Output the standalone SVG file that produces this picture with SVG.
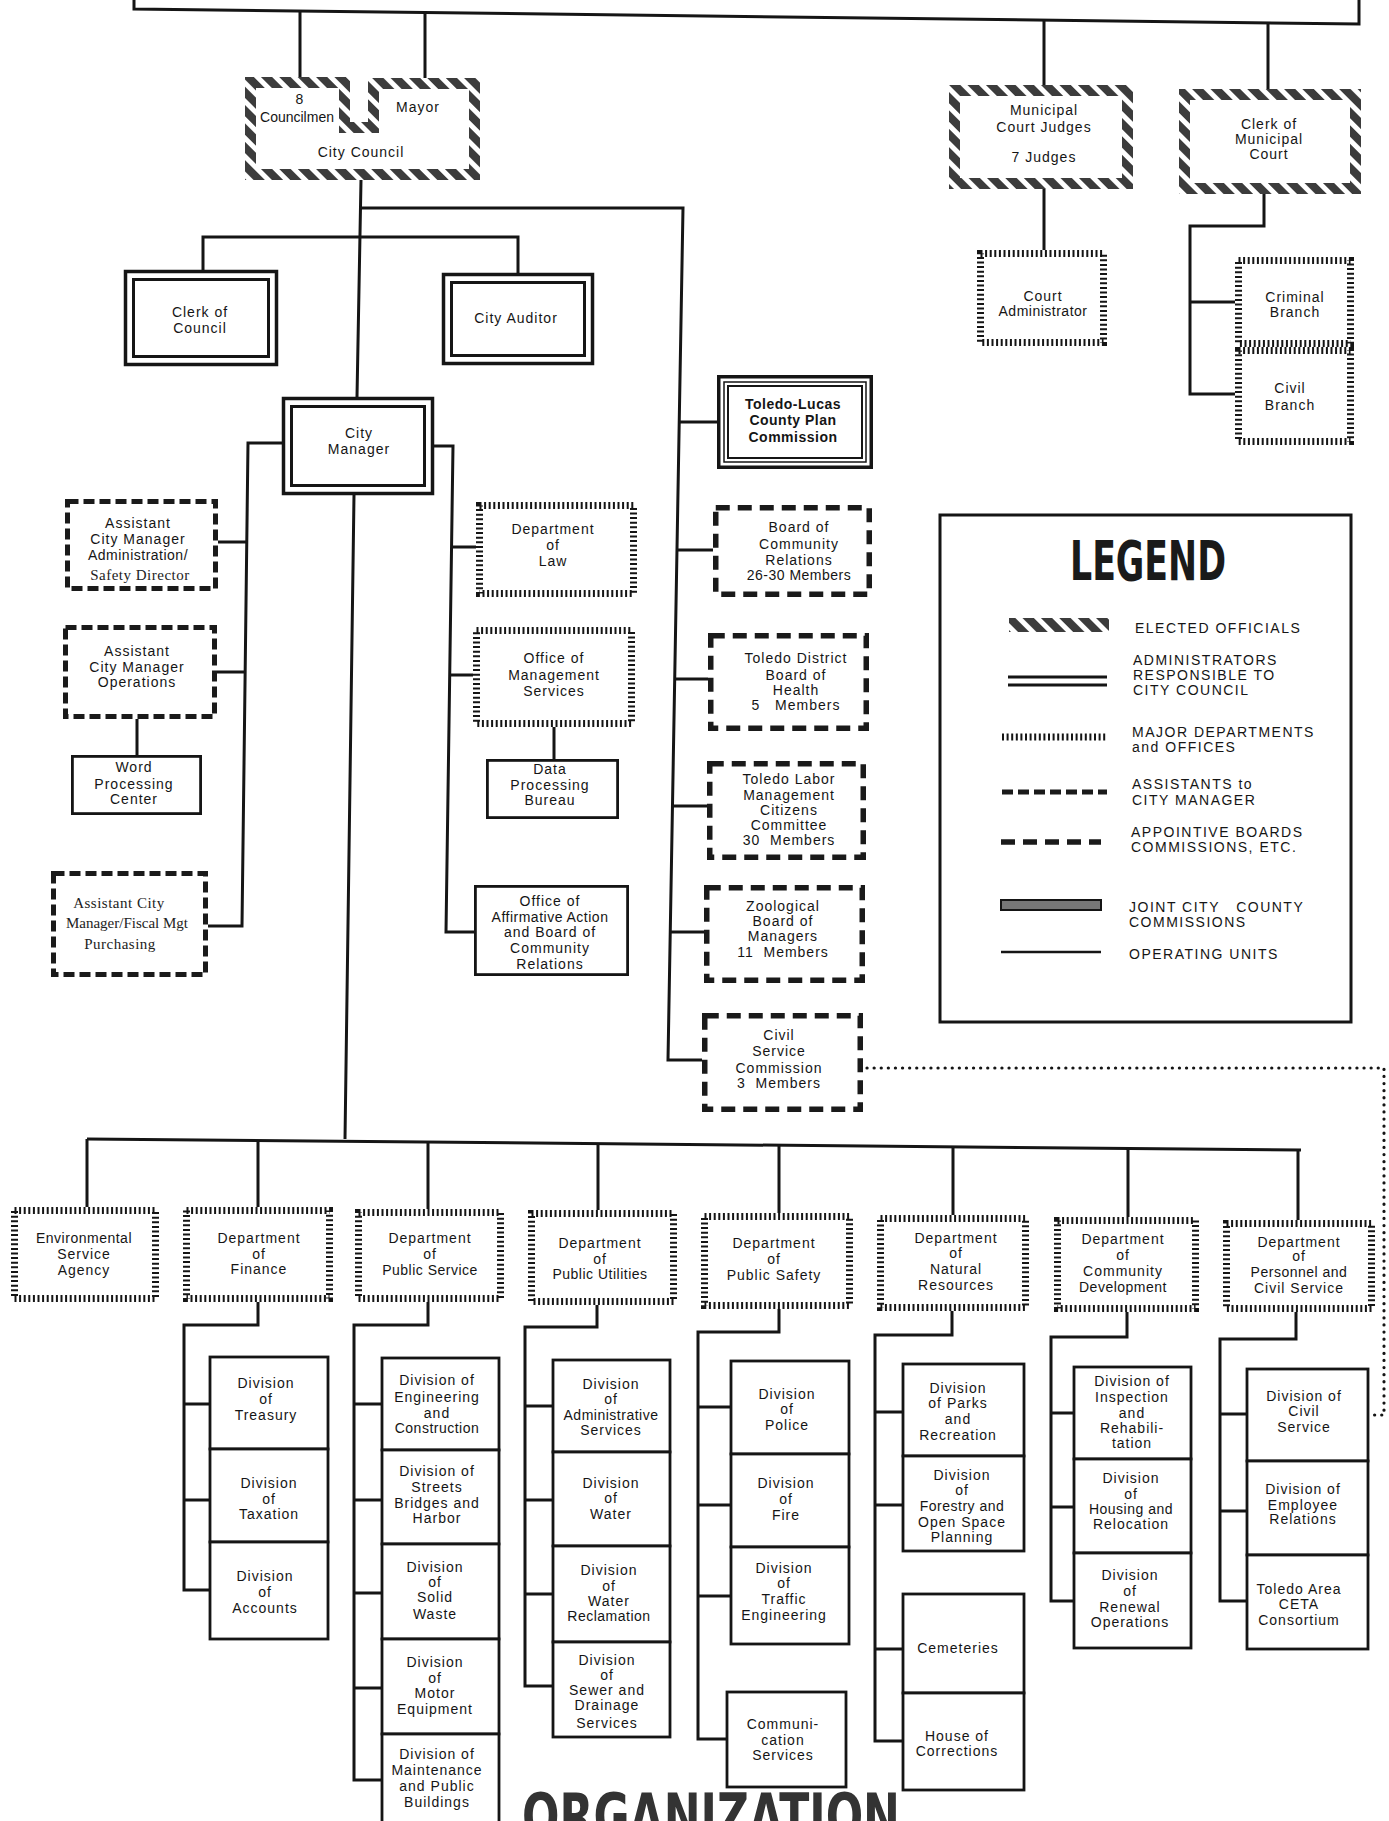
<svg xmlns="http://www.w3.org/2000/svg" width="1389" height="1821" viewBox="0 0 1389 1821">
<style>
.t{font-family:"Liberation Sans",Arial,sans-serif;font-size:14px;letter-spacing:1px;text-anchor:middle;fill:#151515}
.ts{font-family:"Liberation Serif","Times New Roman",serif;font-size:15px;letter-spacing:0.5px;text-anchor:middle;fill:#222}
.lg{font-family:"Liberation Sans",Arial,sans-serif;font-size:14px;letter-spacing:1.5px;fill:#151515}
.el{fill:#fff;stroke:url(#hatch);stroke-width:11}
.ad{fill:#fff;stroke:#151515;stroke-width:3.5}
.ad2{fill:none;stroke:#151515;stroke-width:3}
.mj{fill:#fff;stroke:#151515;stroke-width:7;stroke-dasharray:2 2.6}
.as{fill:#fff;stroke:#1a1a1a;stroke-width:5;stroke-dasharray:11 5}
.ap{fill:#fff;stroke:#1a1a1a;stroke-width:5.5;stroke-dasharray:14 8}
.op{fill:#fff;stroke:#151515;stroke-width:2.8}
.cn{fill:none;stroke:#151515;stroke-width:3}
.dot{fill:none;stroke:#151515;stroke-width:3.2;stroke-dasharray:0.1 7;stroke-linecap:round}
.nar{letter-spacing:0.5px}
</style>
<defs>
<pattern id="hatch" patternUnits="userSpaceOnUse" width="13" height="13" patternTransform="rotate(-45)">
<rect width="13" height="13" fill="#fff"/><rect width="8" height="13" fill="#3c3c3c"/>
</pattern>
</defs>
<rect width="1389" height="1821" fill="#fff"/>

<g id="connectors">
<path class="cn" d="M134,0 V9 L1359,24 V0" stroke-width="4.5"/>
<path class="cn" d="M300,10 V80 M425,11 V80 M1044,20 V88 M1268,23 V92"/>
<path class="cn" d="M361,180 L357,397 M361,208 H683 L668,1060 H702"/>
<path class="cn" d="M203,270 V237 H518 V273"/>
<path class="cn" d="M283,443 H248 L242,926 H208 M247,542 H218 M246,672 H217 M137,719 V755"/>
<path class="cn" d="M433,446 H453 L446,932 H474 M452,547 H476 M451,675 H473 M554,727 V759"/>
<path class="cn" d="M679,422 H717 M677,550 H713 M675,679 H708 M672,806 H707 M670,932 H704"/>
<path class="cn" d="M1044,189 V250 M1264,193 V226 H1190 V394 H1235 M1190,302 H1235"/>
<path class="cn" d="M354,495 L345,1139 M87,1139 L1301,1150"/>
<path class="cn" d="M87,1139 V1207 M258,1140.5 V1207 M428,1142 V1209 M598,1143.6 V1210 M779,1145 V1213 M953,1147 V1215 M1128,1148.4 V1217 M1298,1150 V1220"/>
<path class="cn" d="M258,1302 V1325 H184 V1590 H210 M184,1404 H210 M184,1500 H210"/>
<path class="cn" d="M428,1302 V1325 H354 V1780 H382 M354,1404 H382 M354,1500 H382 M354,1593 H382 M354,1688 H382"/>
<path class="cn" d="M597,1305 V1327 H525 V1686 H553 M525,1406 H553 M525,1500 H553 M525,1594 H553"/>
<path class="cn" d="M779,1309 V1332 H698 V1739 H727 M698,1407 H731 M698,1505 H731 M698,1596 H731"/>
<path class="cn" d="M952,1311 V1335 H875 V1741 H903 M875,1412 H903 M875,1505 H903 M875,1649 H903"/>
<path class="cn" d="M1127,1312 V1337 H1051 V1601 H1074 M1051,1413 H1074 M1051,1507 H1074"/>
<path class="cn" d="M1296,1312 V1339 H1220 V1601 H1247 M1220,1414 H1247 M1220,1511 H1247"/>
<path class="dot" d="M867,1068 H1384 V1415 H1372"/>
</g>

<g id="city-council">
<path class="el" d="M250.5,82.5 H344.5 V127.5 H373.5 V83.5 H474.5 V174.5 H250.5 Z"/>
<text class="t" x="300" y="104">8</text>
<text class="t" x="297" y="122" style="letter-spacing:0">Councilmen</text>
<text class="t" x="418" y="112">Mayor</text>
<text class="t" x="361" y="157">City Council</text>
</g>

<g id="municipal-court-judges">
<rect class="el" x="954.5" y="90.5" width="173" height="93"/>
<text class="t" x="1044" y="115">Municipal</text>
<text class="t" x="1044" y="132">Court Judges</text>
<text class="t" x="1044" y="162">7 Judges</text>
</g>

<g id="clerk-municipal-court">
<rect class="el" x="1184.5" y="94.5" width="171" height="94"/>
<text class="t" x="1269" y="129">Clerk of</text>
<text class="t" x="1269" y="144">Municipal</text>
<text class="t" x="1269" y="159">Court</text>
</g>

<g id="court-administrator">
<rect class="mj" x="980.5" y="253.5" width="123" height="89"/>
<text class="t" x="1043" y="301">Court</text>
<text class="t nar" x="1043" y="316">Administrator</text>
</g>

<g id="criminal-branch">
<rect class="mj" x="1238.5" y="260.5" width="112" height="83"/>
<text class="t" x="1295" y="302">Criminal</text>
<text class="t" x="1295" y="317">Branch</text>
</g>

<g id="civil-branch">
<rect class="mj" x="1238.5" y="350.5" width="112" height="91"/>
<text class="t" x="1290" y="393">Civil</text>
<text class="t" x="1290" y="410">Branch</text>
</g>

<g id="clerk-of-council">
<rect class="ad" x="125.5" y="271.5" width="151" height="93"/>
<rect class="ad2" x="133.5" y="279.5" width="135" height="77"/>
<text class="t" x="200" y="317">Clerk of</text>
<text class="t" x="200" y="333">Council</text>
</g>

<g id="city-auditor">
<rect class="ad" x="443.5" y="274.5" width="149" height="89"/>
<rect class="ad2" x="451.5" y="282.5" width="133" height="73"/>
<text class="t" x="516" y="323">City Auditor</text>
</g>

<g id="city-manager">
<rect class="ad" x="283.5" y="398.5" width="149" height="95"/>
<rect class="ad2" x="291.5" y="406.5" width="133" height="79"/>
<text class="t" x="359" y="438">City</text>
<text class="t" x="359" y="454">Manager</text>
</g>

<g id="plan-commission">
<rect x="718.75" y="376.75" width="152.5" height="90.5" fill="#fff" stroke="#151515" stroke-width="3.5"/>
<rect x="724" y="382" width="142" height="80" fill="none" stroke="#151515" stroke-width="1.5"/>
<rect x="728" y="386" width="134" height="72" fill="none" stroke="#151515" stroke-width="2"/>
<text class="t" x="793" y="409" style="font-weight:bold;letter-spacing:0.5px">Toledo-Lucas</text>
<text class="t" x="793" y="425" style="font-weight:bold;letter-spacing:0.5px">County Plan</text>
<text class="t" x="793" y="442" style="font-weight:bold;letter-spacing:0.5px">Commission</text>
</g>

<g id="asst-admin">
<rect class="as" x="67.5" y="501.5" width="148" height="87"/>
<text class="t" x="138" y="528">Assistant</text>
<text class="t" x="138" y="544">City Manager</text>
<text class="t nar" x="138" y="560">Administration/</text>
<text class="ts" x="140" y="580">Safety Director</text>
</g>

<g id="asst-operations">
<rect class="as" x="65.5" y="627.5" width="149" height="89"/>
<text class="t" x="137" y="656">Assistant</text>
<text class="t" x="137" y="672">City Manager</text>
<text class="t" x="137" y="687">Operations</text>
</g>

<g id="word-processing">
<rect class="op" x="72.4" y="756.4" width="128.2" height="57.2"/>
<text class="t" x="134" y="772">Word</text>
<text class="t" x="134" y="789">Processing</text>
<text class="t" x="134" y="804">Center</text>
</g>

<g id="asst-fiscal">
<rect class="as" x="53.5" y="873.5" width="152" height="101"/>
<text class="ts" x="119" y="908">Assistant City</text>
<text class="ts" x="127" y="928" style="letter-spacing:0">Manager/Fiscal Mgt</text>
<text class="ts" x="120" y="949">Purchasing</text>
</g>

<g id="dept-law">
<rect class="mj" x="479.5" y="505.5" width="154" height="88"/>
<text class="t" x="553" y="534">Department</text>
<text class="t" x="553" y="550">of</text>
<text class="t" x="553" y="566">Law</text>
</g>

<g id="office-management">
<rect class="mj" x="476.5" y="630.5" width="155" height="93"/>
<text class="t" x="554" y="663">Office of</text>
<text class="t" x="554" y="680">Management</text>
<text class="t" x="554" y="696">Services</text>
</g>

<g id="data-processing">
<rect class="op" x="487.4" y="760.4" width="130.2" height="57.2"/>
<text class="t" x="550" y="774">Data</text>
<text class="t" x="550" y="790">Processing</text>
<text class="t" x="550" y="805">Bureau</text>
</g>

<g id="affirmative-action">
<rect class="op" x="475.4" y="886.4" width="152.2" height="88.2"/>
<text class="t" x="550" y="906">Office of</text>
<text class="t nar" x="550" y="922">Affirmative Action</text>
<text class="t" x="550" y="937">and Board of</text>
<text class="t" x="550" y="953">Community</text>
<text class="t" x="550" y="969">Relations</text>
</g>

<g id="board-community-relations">
<rect class="ap" x="715.75" y="507.75" width="153.5" height="86.5"/>
<text class="t" x="799" y="532">Board of</text>
<text class="t" x="799" y="549">Community</text>
<text class="t" x="799" y="565">Relations</text>
<text class="t nar" x="799" y="580">26-30 Members</text>
</g>

<g id="board-of-health">
<rect class="ap" x="710.75" y="635.75" width="155.5" height="92.5"/>
<text class="t" x="796" y="663">Toledo District</text>
<text class="t" x="796" y="680">Board of</text>
<text class="t" x="796" y="695">Health</text>
<text class="t" x="796" y="710">5&#160;&#160;&#160;Members</text>
</g>

<g id="labor-management">
<rect class="ap" x="709.75" y="763.75" width="153.5" height="93.5"/>
<text class="t" x="789" y="784">Toledo Labor</text>
<text class="t" x="789" y="800">Management</text>
<text class="t" x="789" y="815">Citizens</text>
<text class="t" x="789" y="830">Committee</text>
<text class="t" x="789" y="845">30&#160;&#160;Members</text>
</g>

<g id="zoological-board">
<rect class="ap" x="706.75" y="887.75" width="155.5" height="92.5"/>
<text class="t" x="783" y="911">Zoological</text>
<text class="t" x="783" y="926">Board of</text>
<text class="t" x="783" y="941">Managers</text>
<text class="t" x="783" y="957">11&#160;&#160;Members</text>
</g>

<g id="civil-service-commission">
<rect class="ap" x="704.75" y="1015.75" width="155.5" height="93.5"/>
<text class="t" x="779" y="1040">Civil</text>
<text class="t" x="779" y="1056">Service</text>
<text class="t" x="779" y="1073">Commission</text>
<text class="t" x="779" y="1088">3&#160;&#160;Members</text>
</g>

<g id="legend">
<rect x="940" y="515" width="411" height="507" fill="none" stroke="#151515" stroke-width="3"/>
<text x="1070" y="580" textLength="156" lengthAdjust="spacingAndGlyphs" style="font-family:'DejaVu Sans Condensed','DejaVu Sans',sans-serif;font-weight:bold;font-size:55px;fill:#1a1a1a">LEGEND</text>
<line x1="1009" y1="625" x2="1109" y2="625" stroke="url(#hatch)" stroke-width="14"/>
<text class="lg" x="1135" y="633">ELECTED OFFICIALS</text>
<path class="cn" d="M1008,677 H1107 M1008,685 H1107" stroke-width="2.5"/>
<text class="lg" x="1133" y="665">ADMINISTRATORS</text>
<text class="lg" x="1133" y="680">RESPONSIBLE TO</text>
<text class="lg" x="1133" y="695">CITY COUNCIL</text>
<line x1="1002" y1="737" x2="1107" y2="737" stroke="#151515" stroke-width="7" stroke-dasharray="2 2.6"/>
<text class="lg" x="1132" y="737">MAJOR DEPARTMENTS</text>
<text class="lg" x="1132" y="752">and OFFICES</text>
<line x1="1002" y1="792" x2="1107" y2="792" stroke="#1a1a1a" stroke-width="5" stroke-dasharray="11 5"/>
<text class="lg" x="1132" y="789">ASSISTANTS to</text>
<text class="lg" x="1132" y="805">CITY MANAGER</text>
<line x1="1001" y1="842" x2="1101" y2="842" stroke="#1a1a1a" stroke-width="5.5" stroke-dasharray="14 8"/>
<text class="lg" x="1131" y="837">APPOINTIVE BOARDS</text>
<text class="lg" x="1131" y="852">COMMISSIONS, ETC.</text>
<rect x="1001" y="900" width="100" height="10" fill="#777" stroke="#151515" stroke-width="2"/>
<text class="lg" x="1129" y="912">JOINT CITY&#160;&#160;&#160;COUNTY</text>
<text class="lg" x="1129" y="927">COMMISSIONS</text>
<line x1="1001" y1="952" x2="1101" y2="952" stroke="#151515" stroke-width="2.5"/>
<text class="lg" x="1129" y="959">OPERATING UNITS</text>
</g>

<g id="environmental-service">
<rect class="mj" x="14.5" y="1210.5" width="141" height="88"/>
<text class="t nar" x="84" y="1243">Environmental</text>
<text class="t" x="84" y="1259">Service</text>
<text class="t" x="84" y="1275">Agency</text>
</g>

<g id="dept-finance">
<rect class="mj" x="186.5" y="1210.5" width="143" height="88"/>
<text class="t" x="259" y="1243">Department</text>
<text class="t" x="259" y="1259">of</text>
<text class="t" x="259" y="1274">Finance</text>
</g>
<g id="div-treasury"><rect class="op" x="210" y="1357" width="118" height="92"/>
<text class="t" x="266" y="1388">Division</text><text class="t" x="266" y="1404">of</text><text class="t" x="266" y="1420">Treasury</text></g>
<g id="div-taxation"><rect class="op" x="210" y="1449" width="118" height="93"/>
<text class="t" x="269" y="1488">Division</text><text class="t" x="269" y="1504">of</text><text class="t" x="269" y="1519">Taxation</text></g>
<g id="div-accounts"><rect class="op" x="210" y="1542" width="118" height="97"/>
<text class="t" x="265" y="1581">Division</text><text class="t" x="265" y="1597">of</text><text class="t" x="265" y="1613">Accounts</text></g>

<g id="dept-public-service">
<rect class="mj" x="358.5" y="1212.5" width="142" height="86"/>
<text class="t" x="430" y="1243">Department</text>
<text class="t" x="430" y="1259">of</text>
<text class="t nar" x="430" y="1275">Public Service</text>
</g>
<g id="div-engineering"><rect class="op" x="382" y="1358" width="117" height="92"/>
<text class="t" x="437" y="1385">Division of</text><text class="t" x="437" y="1402">Engineering</text><text class="t" x="437" y="1418">and</text><text class="t nar" x="437" y="1433">Construction</text></g>
<g id="div-streets"><rect class="op" x="382" y="1450" width="117" height="94"/>
<text class="t" x="437" y="1476">Division of</text><text class="t" x="437" y="1492">Streets</text><text class="t" x="437" y="1508">Bridges and</text><text class="t" x="437" y="1523">Harbor</text></g>
<g id="div-solid-waste"><rect class="op" x="382" y="1544" width="117" height="95"/>
<text class="t" x="435" y="1572">Division</text><text class="t" x="435" y="1587">of</text><text class="t" x="435" y="1602">Solid</text><text class="t" x="435" y="1619">Waste</text></g>
<g id="div-motor"><rect class="op" x="382" y="1639" width="117" height="95"/>
<text class="t" x="435" y="1667">Division</text><text class="t" x="435" y="1683">of</text><text class="t" x="435" y="1698">Motor</text><text class="t" x="435" y="1714">Equipment</text></g>
<g id="div-maintenance"><rect class="op" x="382" y="1734" width="117" height="100"/>
<text class="t" x="437" y="1759">Division of</text><text class="t" x="437" y="1775">Maintenance</text><text class="t" x="437" y="1791">and Public</text><text class="t" x="437" y="1807">Buildings</text></g>

<g id="dept-public-utilities">
<rect class="mj" x="531.5" y="1213.5" width="142" height="88"/>
<text class="t" x="600" y="1248">Department</text>
<text class="t" x="600" y="1264">of</text>
<text class="t nar" x="600" y="1279">Public Utilities</text>
</g>
<g id="div-admin-services"><rect class="op" x="553" y="1360" width="117" height="92"/>
<text class="t" x="611" y="1389">Division</text><text class="t" x="611" y="1404">of</text><text class="t nar" x="611" y="1420">Administrative</text><text class="t" x="611" y="1435">Services</text></g>
<g id="div-water"><rect class="op" x="553" y="1452" width="117" height="94"/>
<text class="t" x="611" y="1488">Division</text><text class="t" x="611" y="1503">of</text><text class="t" x="611" y="1519">Water</text></g>
<g id="div-water-reclamation"><rect class="op" x="553" y="1546" width="117" height="96"/>
<text class="t" x="609" y="1575">Division</text><text class="t" x="609" y="1591">of</text><text class="t" x="609" y="1606">Water</text><text class="t nar" x="609" y="1621">Reclamation</text></g>
<g id="div-sewer"><rect class="op" x="553" y="1642" width="117" height="95"/>
<text class="t" x="607" y="1665">Division</text><text class="t" x="607" y="1680">of</text><text class="t" x="607" y="1695">Sewer and</text><text class="t" x="607" y="1710">Drainage</text><text class="t" x="607" y="1728">Services</text></g>

<g id="dept-public-safety">
<rect class="mj" x="704.5" y="1216.5" width="145" height="89"/>
<text class="t" x="774" y="1248">Department</text>
<text class="t" x="774" y="1264">of</text>
<text class="t" x="774" y="1280">Public Safety</text>
</g>
<g id="div-police"><rect class="op" x="731" y="1361" width="118" height="93"/>
<text class="t" x="787" y="1399">Division</text><text class="t" x="787" y="1414">of</text><text class="t" x="787" y="1430">Police</text></g>
<g id="div-fire"><rect class="op" x="731" y="1454" width="118" height="93"/>
<text class="t" x="786" y="1488">Division</text><text class="t" x="786" y="1504">of</text><text class="t" x="786" y="1520">Fire</text></g>
<g id="div-traffic"><rect class="op" x="731" y="1547" width="118" height="97"/>
<text class="t" x="784" y="1573">Division</text><text class="t" x="784" y="1588">of</text><text class="t" x="784" y="1604">Traffic</text><text class="t" x="784" y="1620">Engineering</text></g>
<g id="communication-services"><rect class="op" x="727" y="1692" width="119" height="95"/>
<text class="t" x="783" y="1729">Communi-</text><text class="t" x="783" y="1745">cation</text><text class="t" x="783" y="1760">Services</text></g>

<g id="dept-natural-resources">
<rect class="mj" x="880.5" y="1218.5" width="145" height="89"/>
<text class="t" x="956" y="1243">Department</text>
<text class="t" x="956" y="1258">of</text>
<text class="t" x="956" y="1274">Natural</text>
<text class="t" x="956" y="1290">Resources</text>
</g>
<g id="div-parks"><rect class="op" x="903" y="1364" width="121" height="92"/>
<text class="t" x="958" y="1393">Division</text><text class="t" x="958" y="1408">of Parks</text><text class="t" x="958" y="1424">and</text><text class="t" x="958" y="1440">Recreation</text></g>
<g id="div-forestry"><rect class="op" x="903" y="1456" width="121" height="95"/>
<text class="t" x="962" y="1480">Division</text><text class="t" x="962" y="1495">of</text><text class="t nar" x="962" y="1511">Forestry and</text><text class="t" x="962" y="1527">Open Space</text><text class="t" x="962" y="1542">Planning</text></g>
<g id="cemeteries"><rect class="op" x="903" y="1594" width="121" height="99"/>
<text class="t" x="958" y="1653">Cemeteries</text></g>
<g id="house-of-corrections"><rect class="op" x="903" y="1693" width="121" height="97"/>
<text class="t" x="957" y="1741">House of</text><text class="t" x="957" y="1756">Corrections</text></g>

<g id="dept-community-development">
<rect class="mj" x="1057.5" y="1220.5" width="138" height="88"/>
<text class="t" x="1123" y="1244">Department</text>
<text class="t" x="1123" y="1260">of</text>
<text class="t" x="1123" y="1276">Community</text>
<text class="t nar" x="1123" y="1292">Development</text>
</g>
<g id="div-inspection"><rect class="op" x="1074" y="1367" width="117" height="92"/>
<text class="t" x="1132" y="1386">Division of</text><text class="t" x="1132" y="1402">Inspection</text><text class="t" x="1132" y="1418">and</text><text class="t" x="1132" y="1433">Rehabili-</text><text class="t" x="1132" y="1448">tation</text></g>
<g id="div-housing"><rect class="op" x="1074" y="1459" width="117" height="94"/>
<text class="t" x="1131" y="1483">Division</text><text class="t" x="1131" y="1499">of</text><text class="t nar" x="1131" y="1514">Housing and</text><text class="t" x="1131" y="1529">Relocation</text></g>
<g id="div-renewal"><rect class="op" x="1074" y="1553" width="117" height="95"/>
<text class="t" x="1130" y="1580">Division</text><text class="t" x="1130" y="1596">of</text><text class="t" x="1130" y="1612">Renewal</text><text class="t" x="1130" y="1627">Operations</text></g>

<g id="dept-personnel">
<rect class="mj" x="1226.5" y="1223.5" width="145" height="85"/>
<text class="t" x="1299" y="1247">Department</text>
<text class="t" x="1299" y="1261">of</text>
<text class="t nar" x="1299" y="1277">Personnel and</text>
<text class="t" x="1299" y="1293">Civil Service</text>
</g>
<g id="div-civil-service"><rect class="op" x="1247" y="1369" width="121" height="92"/>
<text class="t" x="1304" y="1401">Division of</text><text class="t" x="1304" y="1416">Civil</text><text class="t" x="1304" y="1432">Service</text></g>
<g id="div-employee-relations"><rect class="op" x="1247" y="1461" width="121" height="94"/>
<text class="t" x="1303" y="1494">Division of</text><text class="t" x="1303" y="1510">Employee</text><text class="t" x="1303" y="1524">Relations</text></g>
<g id="ceta"><rect class="op" x="1247" y="1555" width="121" height="94"/>
<text class="t" x="1299" y="1594">Toledo Area</text><text class="t" x="1299" y="1609">CETA</text><text class="t" x="1299" y="1625">Consortium</text></g>

<text x="522" y="1838" textLength="378" lengthAdjust="spacingAndGlyphs" style="font-family:'DejaVu Sans Condensed','DejaVu Sans',sans-serif;font-weight:bold;font-size:62px;fill:#333">ORGANIZATION</text>
</svg>
